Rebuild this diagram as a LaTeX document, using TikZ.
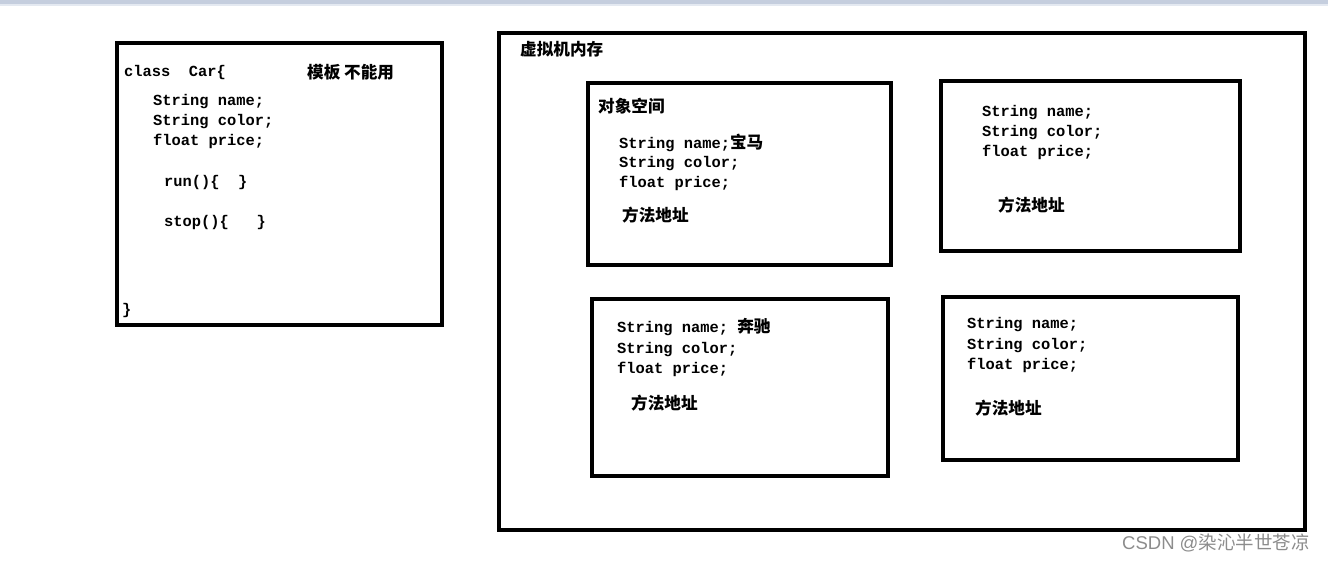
\documentclass[tikz,border=0pt]{standalone}
\usepackage{fontspec}
\setmainfont{Liberation Sans}
\newfontfamily\cjk{Noto Sans CJK SC}
\newfontfamily\code{Liberation Mono}
\begin{document}
\begin{tikzpicture}[x=1pt,y=-1pt,
  box/.style={draw=black,line width=4pt},
  codetxt/.style={anchor=base west,inner sep=0pt,font=\code\bfseries\fontsize{15.4}{18}\selectfont},
  cjktxt/.style={anchor=base west,inner sep=0pt,font=\cjk\bfseries\fontsize{16.6}{18}\selectfont},
  wmtxt/.style={anchor=base west,inner sep=0pt,text=black!45,font=\fontsize{18.5}{20}\selectfont}]
\useasboundingbox (0,0) rectangle (1328,561);
\fill[fill={rgb,255:red,197;green,206;blue,222}] (0,0) rectangle (1328,4);
\fill[fill={rgb,255:red,228;green,233;blue,241}] (0,4) rectangle (1328,6);
% class box
\draw[box] (117,43) rectangle (442,325);
\node[codetxt] (cls) at (124,77) {class~~Car\{};
\node[cjktxt] (tpl) at (307,79) {模板 不能用};
\node[codetxt] (c1) at (153,106) {String name;};
\node[codetxt] (c2) at (153,126) {String color;};
\node[codetxt] (c3) at (153,146) {float price;};
\node[codetxt] (c4) at (164,187) {run()\{~~\}};
\node[codetxt] (c5) at (164,227) {stop()\{~~~\}};
\node[codetxt] (c6) at (122,315) {\}};
% memory box
\draw[box] (499,33) rectangle (1305,530);
\node[cjktxt] (mem) at (520,56) {虚拟机内存};
% object 1
\draw[box] (588,83) rectangle (891,265);
\node[cjktxt] (obj) at (598,113) {对象空间};
\node[codetxt] (a1) at (619,149) {String name;{\cjk\bfseries\fontsize{16.6}{18}\selectfont 宝马}};
\node[codetxt] (a2) at (619,168) {String color;};
\node[codetxt] (a3) at (619,188) {float price;};
\node[cjktxt] (a4) at (622,222) {方法地址};
% object 2
\draw[box] (941,81) rectangle (1240,251);
\node[codetxt] (b1) at (982,117) {String name;};
\node[codetxt] (b2) at (982,137) {String color;};
\node[codetxt] (b3) at (982,157) {float price;};
\node[cjktxt] (b4) at (998,212) {方法地址};
% object 3
\draw[box] (592,299) rectangle (888,476);
\node[codetxt] (d1) at (617,333) {String name; {\cjk\bfseries\fontsize{16.6}{18}\selectfont 奔驰}};
\node[codetxt] (d2) at (617,353) {String color;};
\node[codetxt] (d3) at (617,373) {float price;};
\node[cjktxt] (d4) at (631,409) {方法地址};
% object 4
\draw[box] (943,297) rectangle (1238,460);
\node[codetxt] (e1) at (967,329) {String name;};
\node[codetxt] (e2) at (967,349) {String color;};
\node[codetxt] (e3) at (967,369) {float price;};
\node[cjktxt] (e4) at (975,414) {方法地址};
% watermark
\node[wmtxt] (wm) at (1122,549) {CSDN @{\cjk 染沁半世苍凉}};
\end{tikzpicture}
\end{document}
